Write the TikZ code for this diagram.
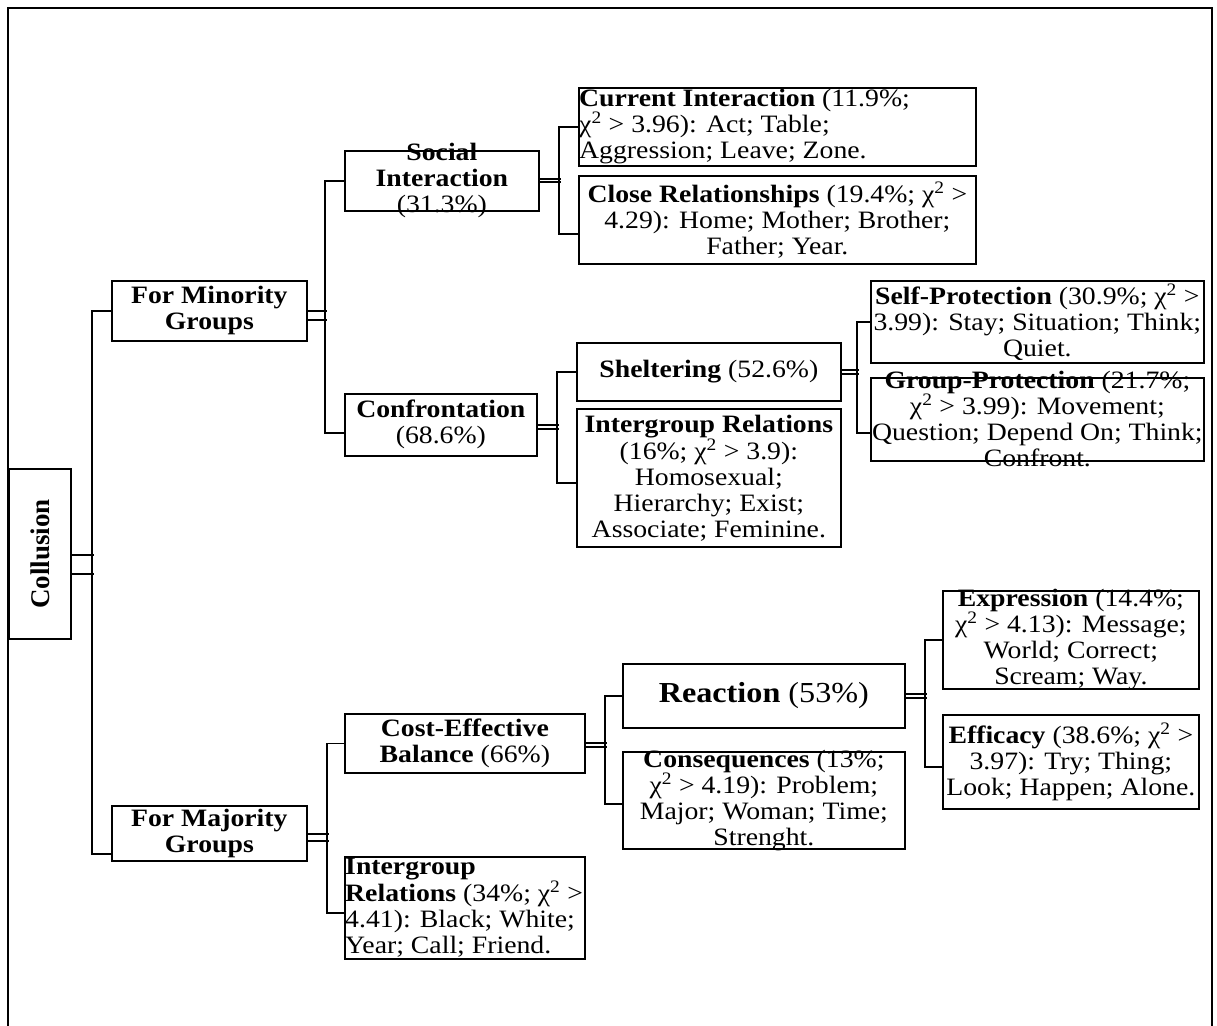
\documentclass[tikz,border=0pt]{standalone}
\usepackage{fontspec}
\setmainfont{Liberation Serif}[FakeStretch=1.11]
\newfontfamily\rootfont{Liberation Serif}
\newcommand{\chisq}{χ\textsuperscript{2}}
\begin{document}
\begin{tikzpicture}[x=1pt,y=-1pt,
  box/.style={draw, line width=1.7pt, anchor=north west, inner sep=0pt},
  txt/.style={align=center, inner sep=0pt, font=\fontsize{25}{26}\selectfont},
  link/.style={line width=1.7pt}]
\useasboundingbox (0,0) rectangle (1217,1025);

% outer frame
\draw[line width=1.7pt] (8,1030) -- (8,8) -- (1212,8) -- (1212,1030);

% root
\node[box, minimum width=62, minimum height=170] (root) at (8,468) {};
\node[rotate=90, inner sep=0pt, font=\rootfont\fontsize{27}{28}\selectfont\bfseries] (root-t) at (root.center) {Collusion};

% level 1
\node[box, minimum width=195, minimum height=60] (fmin) at (111,280) {};
\node[txt] (fmin-t) at (fmin.center) {\textbf{For Minority}\\\textbf{Groups}};
\node[box, minimum width=195, minimum height=55] (fmaj) at (111,805) {};
\node[txt] (fmaj-t) at (fmaj.center) {\textbf{For Majority}\\\textbf{Groups}};

% level 2, minority side
\node[box, minimum width=194, minimum height=60] (soc) at (344,150) {};
\node[txt] (soc-t) at (soc.center) {\textbf{Social}\\\textbf{Interaction}\\(31.3\%)};
\node[box, minimum width=192, minimum height=62] (conf) at (344,393) {};
\node[txt] (conf-t) at (conf.center) {\textbf{Confrontation}\\(68.6\%)};

% level 2, majority side
\node[box, minimum width=240, minimum height=59] (cost) at (344,713) {};
\node[txt] (cost-t) at (cost.center) {\textbf{Cost-Effective}\\\textbf{Balance} (66\%)};
\node[box, minimum width=240, minimum height=102] (igmaj) at (344,856) {};
\node[txt, align=left, anchor=west] (igmaj-t) at ([xshift=1pt]igmaj.west) {\textbf{Intergroup}\\\textbf{Relations} (34\%; \chisq{} >\\4.41): Black; White;\\Year; Call; Friend.};

% level 3
\node[box, minimum width=397, minimum height=78] (cur) at (578,87) {};
\node[txt, align=left, anchor=west] (cur-t) at ([xshift=1pt]cur.west) {\textbf{Current Interaction} (11.9\%;\\\chisq{} > 3.96): Act; Table;\\Aggression; Leave; Zone.};
\node[box, minimum width=397, minimum height=88] (close) at (578,175) {};
\node[txt] (close-t) at (close.center) {\textbf{Close Relationships} (19.4\%; \chisq{} >\\4.29): Home; Mother; Brother;\\Father; Year.};

\node[box, minimum width=264, minimum height=58] (shel) at (576,342) {};
\node[txt] (shel-t) at (shel.center) {\textbf{Sheltering} (52.6\%)};
\node[box, minimum width=264, minimum height=138] (igmin) at (576,408) {};
\node[txt] (igmin-t) at (igmin.center) {\textbf{Intergroup Relations}\\(16\%; \chisq{} > 3.9):\\Homosexual;\\Hierarchy; Exist;\\Associate; Feminine.};

\node[box, minimum width=282, minimum height=64] (react) at (622,663) {};
\node[txt, font=\fontsize{29}{30}\selectfont] (react-t) at (react.center) {\textbf{Reaction} (53\%)};
\node[box, minimum width=282, minimum height=97] (cons) at (622,751) {};
\node[txt] (cons-t) at (cons.center) {\textbf{Consequences} (13\%;\\\chisq{} > 4.19): Problem;\\Major; Woman; Time;\\Strenght.};

% level 4
\node[box, minimum width=333, minimum height=82] (self) at (870,280) {};
\node[txt] (self-t) at (self.center) {\textbf{Self-Protection} (30.9\%; \chisq{} >\\3.99): Stay; Situation; Think;\\Quiet.};
\node[box, minimum width=333, minimum height=83] (grp) at (870,377) {};
\node[txt] (grp-t) at (grp.center) {\textbf{Group-Protection} (21.7\%;\\\chisq{} > 3.99): Movement;\\Question; Depend On; Think;\\Confront.};

\node[box, minimum width=256, minimum height=98] (expr) at (942,590) {};
\node[txt] (expr-t) at (expr.center) {\textbf{Expression} (14.4\%;\\\chisq{} > 4.13): Message;\\World; Correct;\\Scream; Way.};
\node[box, minimum width=256, minimum height=94] (eff) at (942,714) {};
\node[txt] (eff-t) at (eff.center) {\textbf{Efficacy} (38.6\%; \chisq{} >\\3.97): Try; Thing;\\Look; Happen; Alone.};

% connectors: double stubs from each parent, brackets to the children
\draw[link] ([yshift=-1pt]root.east) -- ++(22,0);
\draw[link] ([yshift=-20pt]root.east) -- ++(22,0);
\draw[link] (fmin.west) -- ++(-19,0) |- ([yshift=-20.5pt]fmaj.west);

\draw[link] (fmin.east) -- ++(19,0);
\draw[link] ([yshift=-9pt]fmin.east) -- ++(19,0);
\draw[link] (soc.west) -- ++(-19,0) |- ([yshift=-8pt]conf.west);

\draw[link] ([yshift=2pt]soc.east) -- ++(21,0);
\draw[link] ([yshift=-1pt]soc.east) -- ++(21,0);
\draw[link] (cur.west) -- ++(-19,0) |- ([yshift=-14pt]close.west);

\draw[link] (conf.east) -- ++(21,0);
\draw[link] ([yshift=-4pt]conf.east) -- ++(21,0);
\draw[link] (shel.west) -- ++(-19,0) |- ([yshift=-5pt]igmin.west);

\draw[link] ([yshift=2pt]shel.east) -- ++(17,0);
\draw[link] ([yshift=-2pt]shel.east) -- ++(17,0);
\draw[link] (self.west) -- ++(-13,0) |- ([yshift=-13.5pt]grp.west);

\draw[link] ([yshift=-0.5pt]fmaj.east) -- ++(21,0);
\draw[link] ([yshift=-7.5pt]fmaj.east) -- ++(21,0);
\draw[link] (cost.west) -- ++(-17,0) |- ([yshift=-5pt]igmaj.west);

\draw[link] ([yshift=0.5pt]cost.east) -- ++(21,0);
\draw[link] ([yshift=-3.5pt]cost.east) -- ++(21,0);
\draw[link] (react.west) -- ++(-17,0) |- ([yshift=-3.5pt]cons.west);

\draw[link] ([yshift=2pt]react.east) -- ++(21,0);
\draw[link] ([yshift=-2pt]react.east) -- ++(21,0);
\draw[link] (expr.west) -- ++(-17,0) |- ([yshift=-5pt]eff.west);
\end{tikzpicture}
\end{document}
